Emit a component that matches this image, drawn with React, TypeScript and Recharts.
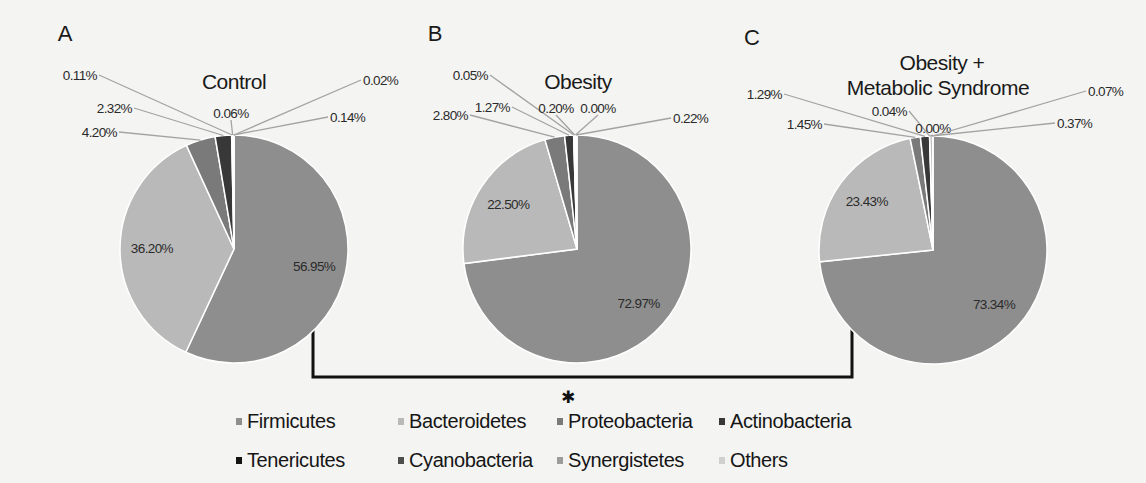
import { PieChart, Pie, Cell, Legend, Customized } from "recharts";

const categories = [
  "Firmicutes",
  "Bacteroidetes",
  "Proteobacteria",
  "Actinobacteria",
  "Tenericutes",
  "Cyanobacteria",
  "Synergistetes",
  "Others",
];

// relative abundance (%) per phylum, same order as categories
const controlShares = [56.95, 36.2, 4.2, 2.32, 0.11, 0.06, 0.14, 0.02];
const obesityShares = [72.97, 22.5, 2.8, 1.27, 0.05, 0.2, 0.0, 0.22];
const metabolicShares = [73.34, 23.43, 1.45, 1.29, 0.04, 0.0, 0.37, 0.07];

const panelLetters = ["A", "B", "C"];
const panelTitles = [["Control"], ["Obesity"], ["Obesity +", "Metabolic Syndrome"]];

const sliceColors = [
  "#8e8e8e",
  "#b9b9b9",
  "#7a7a7a",
  "#383838",
  "#141414",
  "#4e4e4e",
  "#9c9c9c",
  "#d0d0d0",
];

const FONT = '"Liberation Sans", Arial, Helvetica, sans-serif';
const W = 1146;
const H = 483;
const R = 114;

type Spot = { dx: number; dy: number; anchor: "start" | "middle" | "end" };

// where the small-slice labels sit, relative to the top point of each pie
const labelSpots: Spot[][] = [
  [
    { dx: 0, dy: 0, anchor: "middle" },
    { dx: 0, dy: 0, anchor: "middle" },
    { dx: -117, dy: -3, anchor: "end" },
    { dx: -102, dy: -27, anchor: "end" },
    { dx: -137, dy: -60, anchor: "end" },
    { dx: -3, dy: -22, anchor: "middle" },
    { dx: 96, dy: -18, anchor: "start" },
    { dx: 129, dy: -55, anchor: "start" },
  ],
  [
    { dx: 0, dy: 0, anchor: "middle" },
    { dx: 0, dy: 0, anchor: "middle" },
    { dx: -109, dy: -20, anchor: "end" },
    { dx: -67, dy: -28, anchor: "end" },
    { dx: -89, dy: -60, anchor: "end" },
    { dx: -21, dy: -27, anchor: "middle" },
    { dx: 21, dy: -27, anchor: "middle" },
    { dx: 96, dy: -17, anchor: "start" },
  ],
  [
    { dx: 0, dy: 0, anchor: "middle" },
    { dx: 0, dy: 0, anchor: "middle" },
    { dx: -111, dy: -12, anchor: "end" },
    { dx: -151, dy: -42, anchor: "end" },
    { dx: -26, dy: -25, anchor: "end" },
    { dx: 0, dy: -8, anchor: "middle" },
    { dx: 124, dy: -13, anchor: "start" },
    { dx: 155, dy: -45, anchor: "start" },
  ],
];

const panels = [
  { values: controlShares, cx: 234, cy: 249, letterX: 65, letterY: 33, titleDx: 0 },
  { values: obesityShares, cx: 577, cy: 249, letterX: 435, letterY: 33, titleDx: 1 },
  { values: metabolicShares, cx: 933, cy: 250, letterX: 752, letterY: 37, titleDx: 5 },
];

const legendCols = [239, 401, 560, 722];
const legendRows = [421, 460];

const RAD = Math.PI / 180;

function makeLabel(panel: number) {
  return (props: any) => {
    const { cx, cy, midAngle, outerRadius, index, value } = props;
    const text = Number(value).toFixed(2) + "%";
    const common = {
      fontSize: 13.5,
      fill: "#2a2a2a",
      fontFamily: FONT,
      letterSpacing: -0.6,
      dominantBaseline: "central" as const,
    };
    if (index < 2) {
      const r = outerRadius * 0.72;
      const x = cx + r * Math.cos(-midAngle * RAD);
      const y = cy + r * Math.sin(-midAngle * RAD);
      return (
        <text key={`in-${index}`} x={x} y={y} textAnchor="middle" {...common}>
          {text}
        </text>
      );
    }
    const spot = labelSpots[panel][index];
    const ex = cx + outerRadius * Math.cos(-midAngle * RAD);
    const ey = cy + outerRadius * Math.sin(-midAngle * RAD);
    const tx = cx + spot.dx;
    const ty = cy - outerRadius + spot.dy;
    const lx = spot.anchor === "end" ? tx + 2 : spot.anchor === "start" ? tx - 2 : tx;
    const ly = spot.anchor === "middle" ? ty + 7 : ty;
    return (
      <g key={`out-${index}`}>
        <line x1={lx} y1={ly} x2={ex} y2={ey} stroke="#a3a3a3" strokeWidth={1.3} />
        <text x={tx} y={ty} textAnchor={spot.anchor} {...common}>
          {text}
        </text>
      </g>
    );
  };
}

function Decorations() {
  return (
    <g fontFamily={FONT}>
      {panels.map((p, i) => (
        <g key={i}>
          <text x={p.letterX} y={p.letterY} textAnchor="middle" dominantBaseline="central" fontSize={22} fill="#1a1a1a">
            {panelLetters[i]}
          </text>
          {panelTitles[i].map((t, j) => (
            <text
              key={t}
              x={p.cx + p.titleDx + (j === 0 && panelTitles[i].length > 1 ? 4 : 0)}
              y={panelTitles[i].length > 1 ? 62 + j * 25 : 81}
              textAnchor="middle"
              dominantBaseline="central"
              fontSize={21}
              letterSpacing={-0.5}
              fill="#1a1a1a"
            >
              {t}
            </text>
          ))}
        </g>
      ))}
      {/* significance bracket between Control and Obesity + MetS */}
      <path d="M313,290 V377 H852 V298" fill="none" stroke="#111" strokeWidth={3} />
      <text
        x={568}
        y={397}
        textAnchor="middle"
        dominantBaseline="central"
        fontSize={17}
        fontFamily='"DejaVu Sans", sans-serif'
        fill="#111"
      >
        ✱
      </text>
    </g>
  );
}

function LegendBox() {
  return (
    <div style={{ position: "relative", width: W, height: 80, fontFamily: FONT }}>
      {categories.map((name, i) => {
        const col = legendCols[i % 4];
        const row = legendRows[Math.floor(i / 4)] - 400;
        return (
          <div
            key={name}
            style={{
              position: "absolute",
              left: col - 3,
              top: row - 12,
              height: 24,
              display: "flex",
              alignItems: "center",
              whiteSpace: "nowrap",
            }}
          >
            <span style={{ width: 6, height: 7, background: sliceColors[i], display: "inline-block", marginRight: 5 }} />
            <span style={{ fontSize: 20, color: "#161616", letterSpacing: -0.4 }}>{name}</span>
          </div>
        );
      })}
    </div>
  );
}

export default function App() {
  return (
    <div style={{ position: "absolute", left: 0, top: 0, width: W, height: H, background: "#f4f4f2" }}>
      <PieChart width={W} height={H} margin={{ top: 0, right: 0, bottom: 0, left: 0 }}>
        {panels.map((p, i) => (
          <Pie
            key={i}
            data={categories.map((name, k) => ({ name, value: p.values[k] }))}
            dataKey="value"
            nameKey="name"
            cx={p.cx}
            cy={p.cy}
            outerRadius={R}
            startAngle={90}
            endAngle={-270}
            stroke="#ffffff"
            strokeWidth={1.5}
            label={makeLabel(i)}
            labelLine={false}
            isAnimationActive={false}
          >
            {categories.map((c, k) => (
              <Cell key={c} fill={sliceColors[k]} />
            ))}
          </Pie>
        ))}
        <Customized component={Decorations} />
        <Legend content={LegendBox} wrapperStyle={{ position: "absolute", left: 0, top: 400, width: W }} />
      </PieChart>
    </div>
  );
}
